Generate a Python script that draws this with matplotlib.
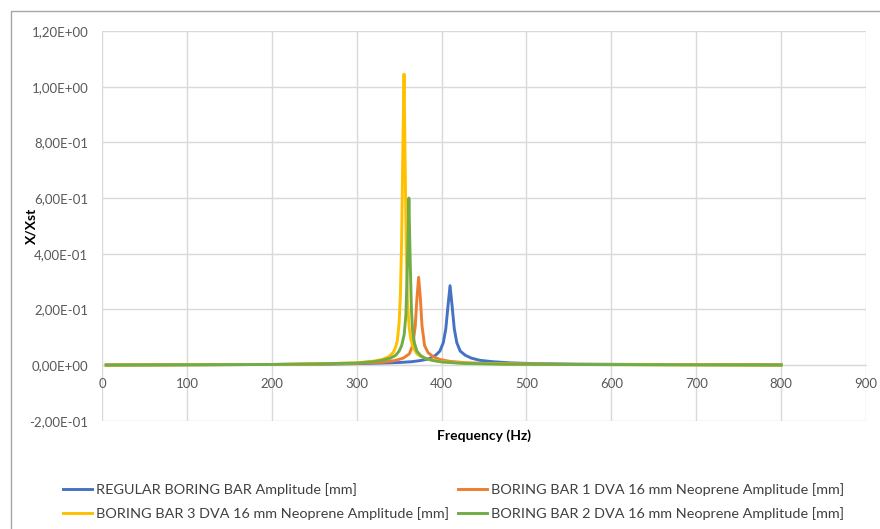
import matplotlib
matplotlib.use("Agg")
import matplotlib.pyplot as plt
from matplotlib.patches import Rectangle
from matplotlib.ticker import FuncFormatter

plt.rcParams['font.family'] = ['Lato', 'DejaVu Sans']

# Frequency response of the boring bar variants (X/Xst vs frequency in Hz)
regular_freq = [5, 100, 200, 250, 300, 330, 350, 365, 375, 385, 393, 398, 402, 405,
                407.5, 410, 412.5, 415, 418, 422, 428, 435, 445, 460, 480, 510, 560, 650, 800]
regular_amp = [0.0, 0.001, 0.002, 0.003, 0.005, 0.007, 0.009, 0.012, 0.016, 0.022, 0.035,
               0.05, 0.08, 0.13, 0.21, 0.285, 0.21, 0.13, 0.08, 0.05, 0.035, 0.025, 0.017,
               0.012, 0.008, 0.005, 0.003, 0.002, 0.001]

dva1_freq = [5, 100, 200, 250, 300, 330, 345, 355, 362, 366, 369, 371, 373, 375, 377,
             380, 384, 390, 398, 410, 430, 460, 520, 600, 700, 800]
dva1_amp = [0.0, 0.001, 0.002, 0.003, 0.006, 0.01, 0.016, 0.025, 0.04, 0.07, 0.14, 0.24,
            0.315, 0.24, 0.14, 0.07, 0.045, 0.03, 0.02, 0.013, 0.008, 0.005, 0.003, 0.002,
            0.001, 0.0]

dva3_freq = [5, 100, 200, 250, 300, 320, 330, 338, 343, 346, 348, 350, 351.5, 353, 354.5,
             355.8, 357, 358.5, 360, 362, 364, 367, 371, 376, 385, 400, 425, 475, 550, 650, 800]
dva3_amp = [0.0, 0.001, 0.002, 0.004, 0.008, 0.014, 0.02, 0.03, 0.045, 0.065, 0.09, 0.15,
            0.25, 0.45, 0.8, 1.045, 0.75, 0.4, 0.22, 0.13, 0.09, 0.06, 0.04, 0.03, 0.02,
            0.012, 0.007, 0.004, 0.002, 0.001, 0.0]

dva2_freq = [5, 100, 200, 250, 300, 320, 330, 340, 346, 350, 353, 356, 358, 360, 361.5,
             363, 364.5, 366, 368, 371, 375, 380, 390, 400, 425, 475, 550, 650, 800]
dva2_amp = [0.0, 0.001, 0.002, 0.004, 0.007, 0.012, 0.017, 0.025, 0.035, 0.05, 0.07, 0.11,
            0.18, 0.38, 0.60, 0.38, 0.2, 0.12, 0.08, 0.05, 0.035, 0.025, 0.016, 0.011,
            0.006, 0.003, 0.002, 0.001, 0.0]

series_labels = [
    "REGULAR BORING BAR Amplitude [mm]",
    "BORING BAR 1 DVA 16 mm Neoprene Amplitude [mm]",
    "BORING BAR 3 DVA 16 mm Neoprene Amplitude [mm]",
    "BORING BAR 2 DVA 16 mm Neoprene Amplitude [mm]",
]
series_colors = ["#4472C4", "#ED7D31", "#FFC000", "#70AD47"]

x_ticks = [0, 100, 200, 300, 400, 500, 600, 700, 800, 900]
y_ticks = [-0.2, 0.0, 0.2, 0.4, 0.6, 0.8, 1.0, 1.2]

fig = plt.figure(figsize=(8.8, 5.29), dpi=100)
fig.patch.set_facecolor("white")

# outer chart frame
fig.patches.append(Rectangle((11 / 880, -0.01), 1.0, 1 - 11 / 529 + 0.01,
                             transform=fig.transFigure, fill=False,
                             edgecolor="#A6A6A6", linewidth=1.0))

ax = fig.add_axes([102 / 880, 1 - 420.7 / 529, 764 / 880, (420.7 - 31) / 529])

data = [(regular_freq, regular_amp), (dva1_freq, dva1_amp),
        (dva3_freq, dva3_amp), (dva2_freq, dva2_amp)]
handles = []
for (fx, fy), lab, col in zip(data, series_labels, series_colors):
    h, = ax.plot(fx, fy, color=col, linewidth=2.1, label=lab, solid_joinstyle="round")
    handles.append(h)

ax.set_xlim(0, 900)
ax.set_ylim(-0.2, 1.2)
ax.set_xticks(x_ticks)
ax.set_yticks(y_ticks)
ax.grid(True, color="#D9D9D9", linewidth=1.0)
ax.set_axisbelow(True)

for side in ["top", "right", "left"]:
    ax.spines[side].set_visible(False)
ax.spines["bottom"].set_position(("data", 0))
ax.spines["bottom"].set_color("#D9D9D9")
ax.spines["bottom"].set_zorder(0.5)

ax.yaxis.set_major_formatter(FuncFormatter(lambda v, p: f"{v:.2E}".replace(".", ",")))
ax.tick_params(axis="both", length=0, colors="#595959", labelsize=9.5)
ax.tick_params(axis="y", pad=10)
ax.tick_params(axis="x", pad=9.5)

fig.text(484 / 880, 1 - 436 / 529, "Frequency (Hz)", ha="center", va="center",
         fontsize=10, fontweight="bold", color="#000000")
fig.text(31 / 880, 1 - 226 / 529, "X/Xst", ha="center", va="center", rotation=90,
         fontsize=10, fontweight="bold", color="#000000")

# legend: two columns, row-major order as in the series list
order = [0, 2, 1, 3]
leg = fig.legend([handles[i] for i in order], [series_labels[i] for i in order],
                 ncol=2, loc="upper left", bbox_to_anchor=(63 / 880, 1 - 483 / 529),
                 frameon=False, fontsize=10.4, handlelength=2.0, handletextpad=0.3,
                 columnspacing=0.6, labelspacing=0.75, borderpad=0, borderaxespad=0,
                 labelcolor="#404040")

fig.savefig("out.png", dpi=100)
